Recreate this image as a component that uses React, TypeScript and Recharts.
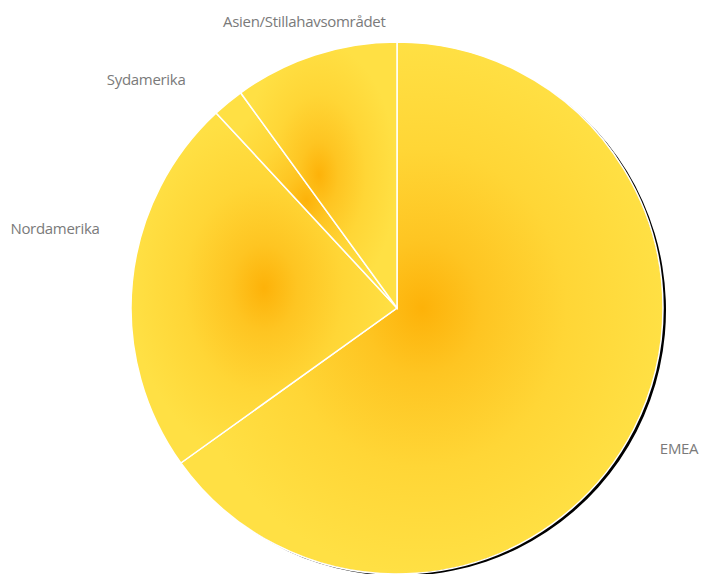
import { PieChart, Pie, Cell } from 'recharts';

const regions = ['EMEA', 'Nordamerika', 'Sydamerika', 'Asien/Stillahavsområdet'];
const shares = [65.1, 23.0, 1.9, 10.0];

const data = regions.map((name, i) => ({ name, value: shares[i] }));

const RADIAN = Math.PI / 180;

// small hand nudges so labels sit where the original placed them
const labelNudge: Record<string, { dx: number; dy: number }> = {
  EMEA: { dx: -4, dy: 3 },
  Nordamerika: { dx: 1, dy: -50 },
  Sydamerika: { dx: -21, dy: 3 },
  'Asien/Stillahavsområdet': { dx: 0, dy: -2 },
};

if (typeof document !== 'undefined') {
  document.body.style.margin = '0';
  document.documentElement.style.overflow = 'hidden';
}

function renderLabel(props: any) {
  const { cx, cy, midAngle, outerRadius, name } = props;
  const r = outerRadius + 34;
  let x = cx + r * Math.cos(-midAngle * RADIAN);
  let y = cy + r * Math.sin(-midAngle * RADIAN);
  const n = labelNudge[name];
  if (n) {
    x += n.dx;
    y += n.dy;
  }
  const dxc = x - cx;
  const anchor = Math.abs(dxc) < 120 ? 'middle' : dxc > 0 ? 'start' : 'end';
  return (
    <text
      x={x}
      y={y}
      textAnchor={anchor}
      dominantBaseline="central"
      fill="#7a7a7a"
      fontSize={15}
      fontFamily="'Open Sans', sans-serif"
      letterSpacing={-0.3}
    >
      {name}
    </text>
  );
}

export default function App() {
  return (
    <div style={{ width: 701, height: 574, background: '#fff' }}>
      <PieChart
        width={701}
        height={574}
        margin={{ top: 0, right: 0, bottom: 0, left: 0 }}
        style={{ overflow: 'visible' }}
      >
        <defs>
          <radialGradient id="sliceFill" cx="50%" cy="50%" r="50%">
            <stop offset="0%" stopColor="#FDB209" />
            <stop offset="25%" stopColor="#FEC522" />
            <stop offset="60%" stopColor="#FFD636" />
            <stop offset="100%" stopColor="#FFE044" />
          </radialGradient>
        </defs>
        {/* hard black shadow peeking out at lower right */}
        <Pie
          data={data}
          dataKey="value"
          cx={400}
          cy={310}
          outerRadius={266}
          startAngle={90}
          endAngle={-270}
          fill="#000"
          stroke="none"
          isAnimationActive={false}
        />
        <Pie
          data={data}
          dataKey="value"
          nameKey="name"
          cx={397}
          cy={308}
          outerRadius={266}
          startAngle={90}
          endAngle={-270}
          stroke="#ffffff"
          strokeWidth={1.5}
          label={renderLabel}
          labelLine={false}
          isAnimationActive={false}
        >
          {data.map((d) => (
            <Cell key={d.name} fill="url(#sliceFill)" />
          ))}
        </Pie>
      </PieChart>
    </div>
  );
}
